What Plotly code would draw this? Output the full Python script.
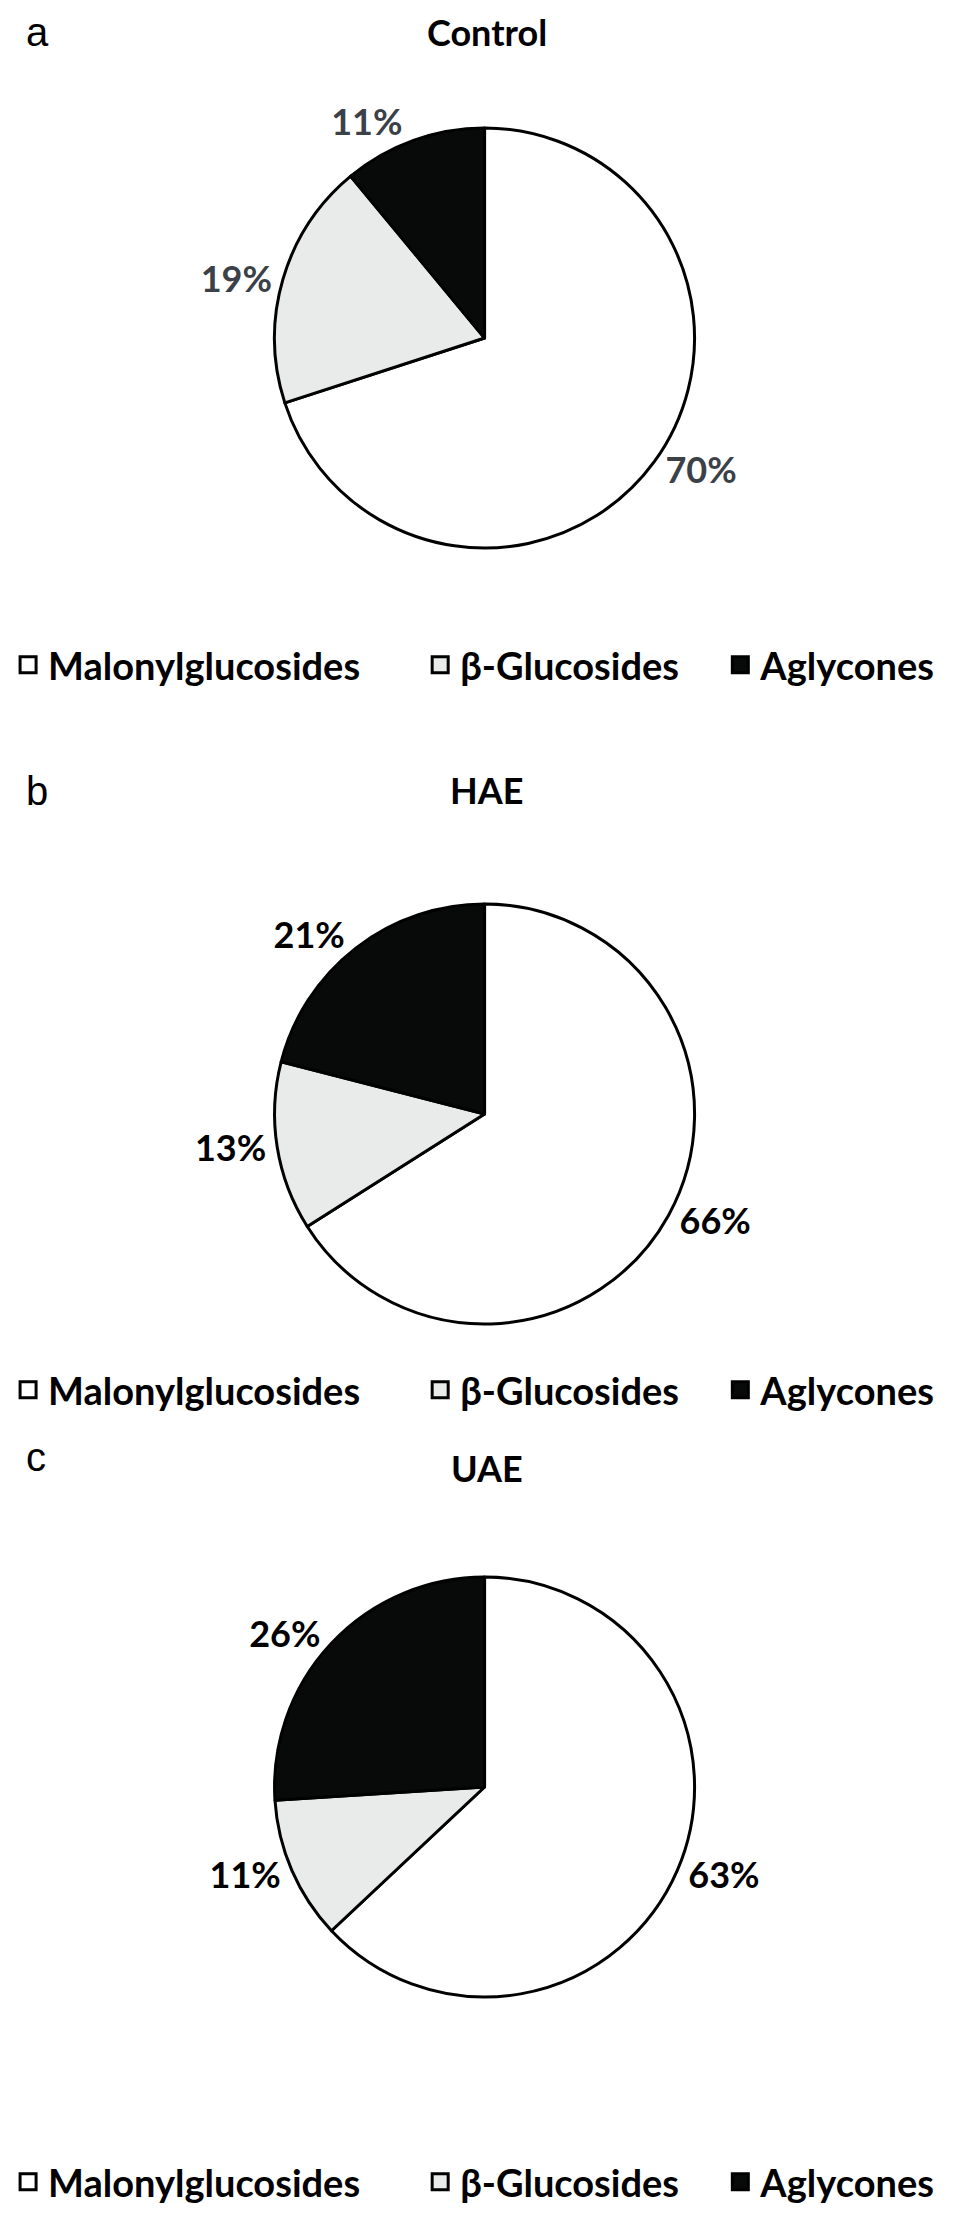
import plotly.graph_objects as go

W, H = 957, 2217

categories = ["Malonylglucosides", "β-Glucosides", "Aglycones"]
panel_titles = ["Control", "HAE", "UAE"]
panel_letters = ["a", "b", "c"]
control_values = [70, 19, 11]
hae_values = [66, 13, 21]
uae_values = [63, 11, 26]
all_values = [control_values, hae_values, uae_values]

slice_colors = ["#ffffff", "#e9ebea", "#080a09"]
label_colors = ["#3b4147", "#000000", "#000000"]

# layout in pixels (from top)
pie_cx = 472
pie_d = 424
pie_tops = [118, 894, 1567]
title_y = [17, 782, 1460]
letter_y = [13, 783, 1449]
legend_y = [657, 1382, 2174]
legend_sq_x = [16, 432, 735]

FONT = "Lato"

def fx(px):
    return px / W

def fy(py):
    return 1 - py / H

fig = go.Figure()
for i, vals in enumerate(all_values):
    t = pie_tops[i]
    b = t + pie_d
    l = pie_cx - pie_d / 2
    r = pie_cx + pie_d / 2
    fig.add_trace(go.Pie(
        labels=categories,
        values=vals,
        sort=False,
        direction="clockwise",
        rotation=0,
        marker=dict(colors=slice_colors, line=dict(color="#000000", width=3)),
        textinfo="percent",
        textposition="outside",
        texttemplate="%{percent:.0%}",
        outsidetextfont=dict(family=FONT, size=36, color=label_colors[i], weight="bold"),
        domain=dict(x=[fx(l), fx(r)], y=[fy(b), fy(t)]),
        showlegend=False,
        hoverinfo="label+percent",
        name=panel_titles[i],
    ))

# legend entries: one legend per entry so each can sit where the reference has it
layout_legends = {}
k = 0
for i in range(3):
    for j, cat in enumerate(categories):
        k += 1
        lname = "legend" if k == 1 else f"legend{k}"
        fig.add_trace(go.Scatter(
            x=[None], y=[None], mode="markers", name=cat,
            marker=dict(symbol="square", size=26, color=slice_colors[j],
                        line=dict(color="#000000", width=3)),
            legend=lname, showlegend=True, hoverinfo="skip",
        ))
        layout_legends[lname] = dict(
            orientation="h", x=fx(legend_sq_x[j] - 25), xanchor="left",
            y=fy(legend_y[i]), yanchor="middle",
            font=dict(family=FONT, size=38, color="#000000", weight="bold"),
            bgcolor="rgba(0,0,0,0)", borderwidth=0, itemsizing="trace",
        )

annotations = []
for i in range(3):
    top_panel = i == 0
    annotations.append(dict(
        text=panel_titles[i], x=fx(474), y=1.0 if top_panel else fy(title_y[i]),
        xref="paper", yref="paper",
        xanchor="center", yanchor="top" if top_panel else "middle", showarrow=False,
        font=dict(family=FONT, size=36, color="#000000", weight="bold"),
    ))
    annotations.append(dict(
        text=panel_letters[i], x=fx(7), y=1.0 if top_panel else fy(letter_y[i]),
        xref="paper", yref="paper",
        xanchor="left", yanchor="top" if top_panel else "middle", showarrow=False,
        font=dict(family="Liberation Sans", size=40, color="#000000"),
    ))

fig.update_layout(
    width=W, height=H,
    margin=dict(l=0, r=0, t=0, b=0),
    paper_bgcolor="#ffffff", plot_bgcolor="rgba(0,0,0,0)",
    annotations=annotations,
    xaxis=dict(visible=False), yaxis=dict(visible=False),
    **layout_legends,
)

fig.write_html("out.html")
